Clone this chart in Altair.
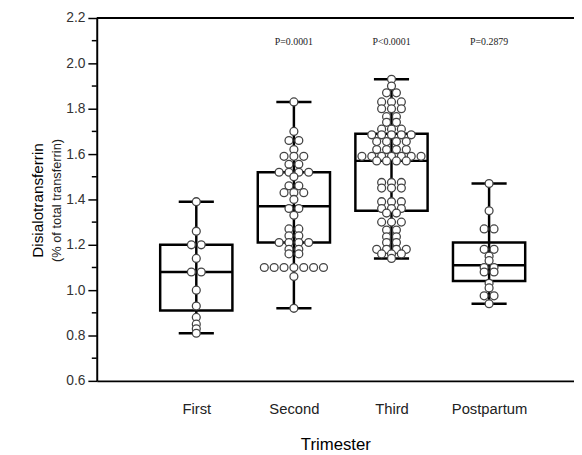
import altair as alt
import pandas as pd

# ---------------- data ----------------
groups = ["First", "Second", "Third", "Postpartum"]
group_pos = [1, 2, 3, 4]

first_vals = [1.39, 1.26, 1.20, 1.20, 1.14, 1.08, 1.08, 1.00, 0.93, 0.88,
              0.85, 0.83, 0.81]
second_vals = [1.83, 1.70, 1.66, 1.66, 1.62, 1.59, 1.59, 1.59, 1.555, 1.555,
               1.52, 1.52, 1.52, 1.52, 1.50, 1.46, 1.46, 1.43, 1.43, 1.43,
               1.40, 1.36, 1.36, 1.33, 1.27, 1.27, 1.24, 1.24, 1.21, 1.21,
               1.21, 1.21, 1.18, 1.18, 1.16, 1.16, 1.10, 1.10, 1.10, 1.10,
               1.10, 1.10, 1.10, 1.06, 0.92]
third_vals = [1.93, 1.90, 1.87, 1.87, 1.83, 1.83, 1.83, 1.80, 1.80, 1.80,
              1.765, 1.765, 1.74, 1.74, 1.71, 1.71, 1.71, 1.685, 1.685, 1.685,
              1.685, 1.685, 1.655, 1.655, 1.655, 1.655, 1.62, 1.62, 1.62, 1.62,
              1.59, 1.59, 1.59, 1.59, 1.59, 1.59, 1.59, 1.57, 1.57, 1.57,
              1.57, 1.475, 1.475, 1.475, 1.45, 1.45, 1.45, 1.39, 1.39, 1.39,
              1.36, 1.36, 1.36, 1.34, 1.34, 1.30, 1.30, 1.30, 1.265, 1.265,
              1.235, 1.235, 1.21, 1.21, 1.18, 1.18, 1.18, 1.18, 1.16, 1.16,
              1.16, 1.14]
post_vals = [1.47, 1.35, 1.27, 1.27, 1.18, 1.18, 1.15, 1.13, 1.10, 1.10,
             1.08, 1.08, 1.03, 1.01, 0.975, 0.975, 0.94]

box_min = [0.81, 0.92, 1.14, 0.94]
box_q1 = [0.91, 1.21, 1.35, 1.04]
box_med = [1.08, 1.37, 1.57, 1.11]
box_q3 = [1.20, 1.52, 1.69, 1.21]
box_max = [1.39, 1.83, 1.93, 1.47]

p_labels = ["", "P=0.0001", "P<0.0001", "P=0.2879"]

y_ticks = [0.6, 0.8, 1.0, 1.2, 1.4, 1.6, 1.8, 2.0, 2.2]
y_minor = [0.7, 0.9, 1.1, 1.3, 1.5, 1.7, 1.9, 2.1]

y_title = "Disialotransferrin"
y_subtitle = "(% of total transferrin)"
x_title = "Trimester"

# ---------------- layout ----------------
W, H = 484, 368
X_DOM = [-0.02, 4.87]
Y_DOM = [0.6, 2.2]
PX_PER_X = W / (X_DOM[1] - X_DOM[0])
DOT_SPACING = 10 / PX_PER_X
BOX_HALF = 0.37
CAP_HALF = 0.18

# dot-plot style arrangement: equal values are spread symmetrically
rows = []
for g, pos, vals in zip(groups, group_pos,
                        [first_vals, second_vals, third_vals, post_vals]):
    counts = {}
    for v in vals:
        counts[v] = counts.get(v, 0) + 1
    for v, n in counts.items():
        for i in range(n):
            rows.append({"group": g, "x": pos + (i - (n - 1) / 2) * DOT_SPACING, "y": v})
dots = pd.DataFrame(rows)

box = pd.DataFrame({
    "group": groups, "pos": group_pos, "lo": box_min, "q1": box_q1,
    "med": box_med, "q3": box_q3, "hi": box_max,
})
box["left"] = box["pos"] - BOX_HALF
box["right"] = box["pos"] + BOX_HALF
box["cl"] = box["pos"] - CAP_HALF
box["cr"] = box["pos"] + CAP_HALF

pdf = pd.DataFrame({"pos": group_pos, "label": p_labels, "y": [2.095] * 4})
pdf = pdf[pdf["label"] != ""]

label_expr = "".join(
    f"datum.value == {p} ? '{g}' : " for p, g in zip(group_pos, groups)) + "''"

xs = alt.Scale(domain=X_DOM, nice=False, zero=False)
ys = alt.Scale(domain=Y_DOM, nice=False, zero=False)

x_axis = alt.Axis(values=group_pos, labelExpr=label_expr, ticks=False,
                  domainColor="black", domainWidth=2, grid=False,
                  labelFont="Liberation Sans", labelFontSize=15,
                  labelColor="#222", labelPadding=21,
                  title=x_title, titleFont="Liberation Sans", titleFontSize=17,
                  titleFontWeight="normal", titleColor="black", titlePadding=21)
y_axis = alt.Axis(values=y_ticks, format=".1f", tickSize=9, tickWidth=1.5,
                  tickColor="black", domainColor="black", domainWidth=2,
                  grid=False, labelFont="Liberation Sans", labelFontSize=14,
                  labelColor="#333", labelPadding=3, title=None)

base_box = alt.Chart(box)

whisker = base_box.mark_rule(color="black", strokeWidth=2.5).encode(
    x=alt.X("pos:Q", scale=xs, axis=x_axis),
    y=alt.Y("lo:Q", scale=ys, axis=y_axis),
    y2="hi:Q",
)
boxes = base_box.mark_rect(fill=None, fillOpacity=0, stroke="black", strokeWidth=2.5).encode(
    x="left:Q", x2="right:Q", y="q1:Q", y2="q3:Q")
median = base_box.mark_rule(color="black", strokeWidth=2.5).encode(
    x="left:Q", x2="right:Q", y="med:Q")
cap_lo = base_box.mark_rule(color="black", strokeWidth=2.5).encode(
    x="cl:Q", x2="cr:Q", y="lo:Q")
cap_hi = base_box.mark_rule(color="black", strokeWidth=2.5).encode(
    x="cl:Q", x2="cr:Q", y="hi:Q")

points = alt.Chart(dots).mark_point(
    shape="circle", filled=True, fill="white", stroke="#444",
    strokeWidth=1.3, size=64, opacity=1).encode(x="x:Q", y="y:Q")

ptext = alt.Chart(pdf).mark_text(
    font="Liberation Serif", fontSize=10, color="#222").encode(
    x="pos:Q", y="y:Q", text="label:N")

minor = alt.Chart(pd.DataFrame({"y": y_minor})).mark_rule(
    color="black", strokeWidth=1.5).encode(
    y="y:Q", x=alt.value(-5), x2=alt.value(0))

top_line = alt.Chart(pd.DataFrame({"y": [Y_DOM[1]]})).mark_rule(
    color="black", strokeWidth=2).encode(
    y="y:Q", x=alt.value(0), x2=alt.value(W))

t1 = alt.Chart(pd.DataFrame({"t": [y_title]})).mark_text(
    angle=270, font="Liberation Sans", fontSize=15.5, color="black").encode(
    text="t:N", x=alt.value(-59), y=alt.value(185))
t2 = alt.Chart(pd.DataFrame({"t": [y_subtitle]})).mark_text(
    angle=270, font="Liberation Sans", fontSize=13, color="#222").encode(
    text="t:N", x=alt.value(-40), y=alt.value(185))

chart = alt.layer(
    whisker, boxes, median, cap_lo, cap_hi, points, ptext, minor, top_line, t1, t2
).properties(
    width=W, height=H,
    autosize=alt.AutoSizeParams(type="none"),
    padding={"left": 90, "top": 7, "right": 0, "bottom": 70},
).configure_view(strokeWidth=0)

chart.save("out.html", embed_options={"renderer": "svg", "actions": False})
